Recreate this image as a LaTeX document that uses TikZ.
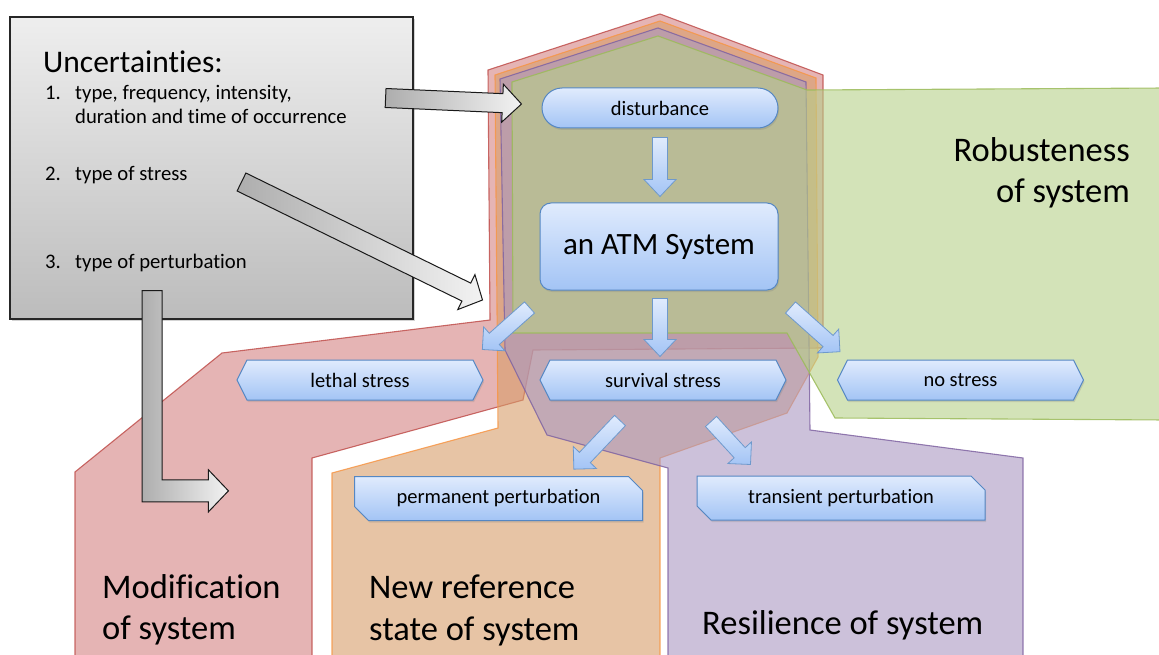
\documentclass[tikz,border=0pt]{standalone}
\usepackage{fontspec}
\setmainfont{Carlito}[Ligatures={NoCommon}]
\usetikzlibrary{calc,shapes.misc,shapes.symbols,shadows}

\definecolor{redline}{RGB}{192,80,77}
\definecolor{redfill}{RGB}{212,130,130}
\definecolor{orangeline}{RGB}{247,150,70}
\definecolor{orangefill}{RGB}{215,157,105}
\definecolor{purpleline}{RGB}{128,100,162}
\definecolor{purplefill}{RGB}{170,152,193}
\definecolor{greenline}{RGB}{155,187,89}
\definecolor{greenfill}{RGB}{182,208,137}
\definecolor{bluetop}{RGB}{224,235,253}
\definecolor{bluebot}{RGB}{163,196,245}
\definecolor{blueline}{RGB}{85,135,195}
\definecolor{greytop}{RGB}{238,238,238}
\definecolor{greybot}{RGB}{188,188,188}

% block arrow: style, from, to, body half width, head half width, head length
\newcommand{\fatarrow}[6]{%
  \coordinate (fa-h) at ($(#3)!#6!(#2)$);
  \draw[#1] ($(#2)!#4!90:(#3)$) -- ($(fa-h)!#4!90:(#3)$) -- ($(fa-h)!#5!90:(#3)$) -- (#3)
    -- ($(fa-h)!#5!-90:(#3)$) -- ($(fa-h)!#4!-90:(#3)$) -- ($(#2)!#4!-90:(#3)$) -- cycle;}

\tikzset{
  zone/.style={fill=#1fill, draw=#1line, fill opacity=.6, draw opacity=.85, line width=1.1pt},
  bluebox/.style={draw=blueline, line width=1pt, top color=bluetop, bottom color=bluebot,
    font=\fontsize{20.5}{24}\selectfont, inner sep=0pt,
    drop shadow={shadow xshift=1pt, shadow yshift=-2pt, opacity=.25}},
  pillbox/.style={bluebox, rounded rectangle, minimum width=236pt, minimum height=40pt},
  hexbox/.style={bluebox, signal, signal to=east and west, signal pointer angle=127,
    minimum width=246pt, minimum height=40pt},
  snipbox/.style={bluebox, chamfered rectangle, chamfered rectangle corners={north east,south west},
    chamfered rectangle xsep=7pt, chamfered rectangle ysep=7pt, minimum width=288pt, minimum height=44pt},
  bigbox/.style={bluebox, rectangle, rounded corners=11pt, minimum width=238pt, minimum height=87pt,
    font=\fontsize{31}{36}\selectfont},
  greybox/.style={draw=black!85, line width=1.2pt, top color=greytop, bottom color=greybot,
    drop shadow={shadow xshift=2pt, shadow yshift=-2pt, opacity=.35}},
  bluearrow/.style={draw=blueline!85, line width=.8pt, top color=bluetop, bottom color=bluebot},
  greyarrow/.style={draw=black!90, line width=1pt, left color=black!32, right color=black!5},
  listtext/.style={anchor=base west, inner sep=0pt, font=\fontsize{20.7}{24}\selectfont},
  biglabel/.style={anchor=base west, inner sep=0pt, font=\fontsize{34.5}{41}\selectfont},
}

\begin{document}
\begin{tikzpicture}[x=1pt,y=-1pt]
    \useasboundingbox (0,0) rectangle (1159,655);
    % zones
    \draw[zone=red] (660,14) -- (823,75) -- (823,348) -- (533,350) -- (523,400) -- (312,458)
        -- (312,665) -- (75,665) -- (75,472) -- (222,353) -- (490,320) -- (488,70) -- cycle;
    \draw[zone=orange] (660,21) -- (816,78) -- (818,357) -- (787,413) -- (660,458) -- (660,665)
        -- (332,665) -- (332,473) -- (498,428) -- (495,75) -- cycle;
    \draw[zone=purple] (658,28) -- (806,82) -- (810,430) -- (1023,458) -- (1023,665) -- (668,665)
        -- (668,468) -- (547,435) -- (505,350) -- (500,79) -- cycle;
    \draw[zone=green] (658,36) -- (807,90) -- (1165,88) -- (1165,420) -- (835,418) -- (787,333)
        -- (513,333) -- (512,82) -- cycle;

    % uncertainties
    \node[greybox, minimum width=403pt, minimum height=302pt] (uncert) at (211.5,168) {};
    \node[listtext, font=\fontsize{31.5}{36}\selectfont] (unc-title) at (43,73) {Uncertainties:};
    \node[listtext] (unc-n1) at (45,100) {1.};
    \node[listtext] (unc-t1) at (75,100) {type, frequency, intensity,};
    \node[listtext] (unc-t1b) at (75,124) {duration and time of occurrence};
    \node[listtext] (unc-n2) at (45,181) {2.};
    \node[listtext] (unc-t2) at (75,181) {type of stress};
    \node[listtext] (unc-n3) at (45,269) {3.};
    \node[listtext] (unc-t3) at (75,269) {type of perturbation};

    % boxes
    \node[pillbox] (dist) at (660,108) {disturbance};
    \node[bigbox] (atm) at (659,246.5) {an ATM System};
    \node[hexbox] (lethal) at (360,380) {lethal stress};
    \node[hexbox] (survival) at (663,380) {survival stress};
    \node[hexbox] (nostress) at (960.5,380) {no stress};
    \node[snipbox] (perm) at (498.5,498.5) {permanent perturbation};
    \node[snipbox] (trans) at (841,498) {transient perturbation};

    % labels
    \node[biglabel, anchor=base east] (robust1) at (1130,162) {Robusteness};
    \node[biglabel, anchor=base east] (robust2) at (1130,203) {of system};
    \node[biglabel] (mod1) at (102,598) {Modification};
    \node[biglabel] (mod2) at (102,639) {of system};
    \node[biglabel] (new1) at (369,598) {New reference};
    \node[biglabel] (new2) at (369,640) {state of system};
    \node[biglabel] (resil) at (702,634) {Resilience of system};

    % grey arrows
    \coordinate (g1s) at ($(uncert.east)+(-28,-70)$);
    \coordinate (g1t) at ($(dist.west)+(-20,-4)$);
    \fatarrow{greyarrow}{g1s}{g1t}{9.5pt}{19pt}{19pt}
    \coordinate (g2s) at ($(uncert.center)+(30,14)$);
    \coordinate (g2t) at ($(atm.west)+(-57,53.5)$);
    \fatarrow{greyarrow}{g2s}{g2t}{10pt}{19.5pt}{18pt}
    \coordinate (g3s) at ($(uncert.south)+(-59.5,-29)$);
    \coordinate (g3t) at ($(mod1.north)+(37,-83)$);
    \draw[greyarrow] ($(g3s)+(-10,0)$) -- ($(g3s)+(10,0)$) -- ($(g3s|-g3t)+(10,-11)$) -- ($(g3t)+(-20,-11)$)
        -- ($(g3t)+(-20,-21)$) -- (g3t) -- ($(g3t)+(-20,21)$) -- ($(g3t)+(-20,11)$)
        -- ($(g3s|-g3t)+(-10,11)$) -- cycle;

    % blue arrows
    \coordinate (b1s) at ($(dist.south)+(0,9)$);
    \coordinate (b1t) at ($(atm.north)+(1,-6)$);
    \fatarrow{bluearrow}{b1s}{b1t}{7.5pt}{16pt}{17pt}
    \coordinate (b2s) at ($(atm.south west)+(-10,17)$);
    \coordinate (b2t) at ($(lethal.north east)+(9,-10)$);
    \fatarrow{bluearrow}{b2s}{b2t}{7.5pt}{16pt}{16pt}
    \coordinate (b3s) at ($(atm.south)+(1,8)$);
    \coordinate (b3t) at ($(atm.south |- survival.north)+(1,-3)$);
    \fatarrow{bluearrow}{b3s}{b3t}{7.5pt}{16pt}{17pt}
    \coordinate (b4s) at ($(atm.south east)+(12,17)$);
    \coordinate (b4t) at ($(nostress.north west)+(-7,-8)$);
    \fatarrow{bluearrow}{b4s}{b4t}{7.5pt}{16pt}{16pt}
    \coordinate (b5s) at ($(survival.south)+(-43,20)$);
    \coordinate (b5t) at ($(perm.north east)+(-62,-14)$);
    \fatarrow{bluearrow}{b5s}{b5t}{7.5pt}{16pt}{16pt}
    \coordinate (b6s) at ($(survival.south)+(48,21)$);
    \coordinate (b6t) at ($(trans.north west)+(54,-11)$);
    \fatarrow{bluearrow}{b6s}{b6t}{7.5pt}{16pt}{16pt}
\end{tikzpicture}
\end{document}
